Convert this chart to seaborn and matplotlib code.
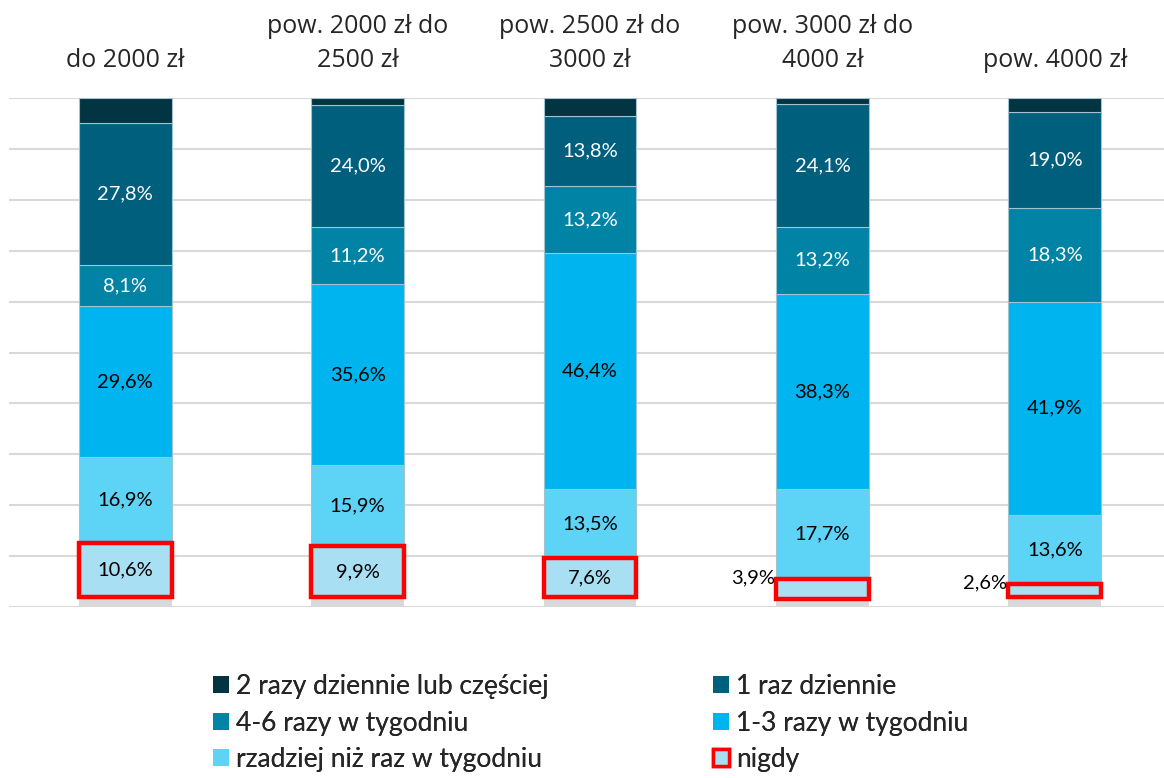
import matplotlib
matplotlib.use("Agg")
import matplotlib.pyplot as plt
from matplotlib.patches import Patch
import seaborn as sns

# categories (income groups)
categories = [
    "do 2000 zł",
    "pow. 2000 zł do\n2500 zł",
    "pow. 2500 zł do\n3000 zł",
    "pow. 3000 zł do\n4000 zł",
    "pow. 4000 zł",
]

# series values in %, bottom to top
brak = [2.0, 2.0, 2.0, 1.6, 1.9]  # unlabelled grey base
nigdy = [10.6, 9.9, 7.6, 3.9, 2.6]
rzadziej = [16.9, 15.9, 13.5, 17.7, 13.6]
raz_1_3 = [29.6, 35.6, 46.4, 38.3, 41.9]
raz_4_6 = [8.1, 11.2, 13.2, 13.2, 18.3]
raz_dziennie = [27.8, 24.0, 13.8, 24.1, 19.0]
dwa_razy = [5.0, 1.4, 3.5, 1.2, 2.7]

series_names = [
    "brak",
    "nigdy",
    "rzadziej niż raz w tygodniu",
    "1-3 razy w tygodniu",
    "4-6 razy w tygodniu",
    "1 raz dziennie",
    "2 razy dziennie lub częściej",
]
series_values = [brak, nigdy, rzadziej, raz_1_3, raz_4_6, raz_dziennie, dwa_razy]
series_colors = ["#d9d9d9", "#a9dff3", "#5dd3f5", "#00b5ef", "#0083a4", "#015f7e", "#023441"]
label_colors = {"nigdy": "black", "rzadziej niż raz w tygodniu": "black",
                "1-3 razy w tygodniu": "black", "4-6 razy w tygodniu": "white",
                "1 raz dziennie": "white"}


def fmt(v):
    return f"{v:.1f}%".replace(".", ",")


sns.set_theme(style="white")
plt.rcParams["font.family"] = ["Lato", "DejaVu Sans"]

fig = plt.figure(figsize=(11.64, 7.78), dpi=100)
ax = fig.add_axes([9 / 1164, 171 / 778, 1162 / 1164, 509 / 778])

bottoms = [0.0] * len(categories)
for name, vals, col in zip(series_names, series_values, series_colors):
    sns.barplot(x=categories, y=vals, color=col, width=0.4, saturation=1,
                errorbar=None, ax=ax, zorder=3)
    cont = ax.containers[-1]
    for i, patch in enumerate(cont):
        patch.set_y(bottoms[i])
        if name == "nigdy":
            patch.set_edgecolor("#ff0000")
            patch.set_linewidth(3.2)
            patch.set_zorder(5)
        elif name == "brak":
            patch.set_linewidth(0)
        else:
            patch.set_edgecolor("#9fc3cf")
            patch.set_linewidth(0.8)
        if name in label_colors:
            v = vals[i]
            if v < 5:
                ax.text(i - 0.2 - 0.005, bottoms[i] + v + 0.3, fmt(v), ha="right",
                        va="center", fontsize=14.5, color="black", zorder=6)
            else:
                ax.text(i, bottoms[i] + v / 2, fmt(v), ha="center", va="center",
                        fontsize=14.5, color=label_colors[name], zorder=6)
    bottoms = [b + v for b, v in zip(bottoms, vals)]

ax.set_xlim(-0.5, 4.5)
ax.set_ylim(0, 100)
ax.set_yticks(range(0, 101, 10))
ax.set_yticklabels([])
ax.tick_params(axis="y", length=0)
ax.grid(axis="y", color="#d9d9d9", linewidth=1.5, zorder=0)
ax.set_axisbelow(True)
for s in ax.spines.values():
    s.set_visible(False)

ax.xaxis.tick_top()
ax.tick_params(axis="x", length=0, pad=18)
for lab in ax.get_xticklabels():
    lab.set_fontfamily(["Open Sans", "DejaVu Sans"])
    lab.set_fontsize(18)
    lab.set_linespacing(1.45)
ax.set_xlabel("")
ax.set_ylabel("")

# legend in two columns, placed as two single-column legends
h = {n: Patch(facecolor=c, edgecolor="none") for n, c in zip(series_names, series_colors)}
h["nigdy"] = Patch(facecolor="#a9dff3", edgecolor="#ff0000", linewidth=2.5)
left_items = ["2 razy dziennie lub częściej", "4-6 razy w tygodniu", "rzadziej niż raz w tygodniu"]
right_items = ["1 raz dziennie", "1-3 razy w tygodniu", "nigdy"]
for items, x0 in [(left_items, 213 / 1164), (right_items, 713 / 1164)]:
    leg = fig.legend([h[n] for n in items], items, loc="upper left",
                     bbox_to_anchor=(x0, 104 / 778), frameon=False, fontsize=19,
                     handlelength=0.62, handleheight=0.62, handletextpad=0.25,
                     labelspacing=0.44, borderaxespad=0, borderpad=0)
    fig.add_artist(leg)

fig.savefig("out.png", dpi=100)
